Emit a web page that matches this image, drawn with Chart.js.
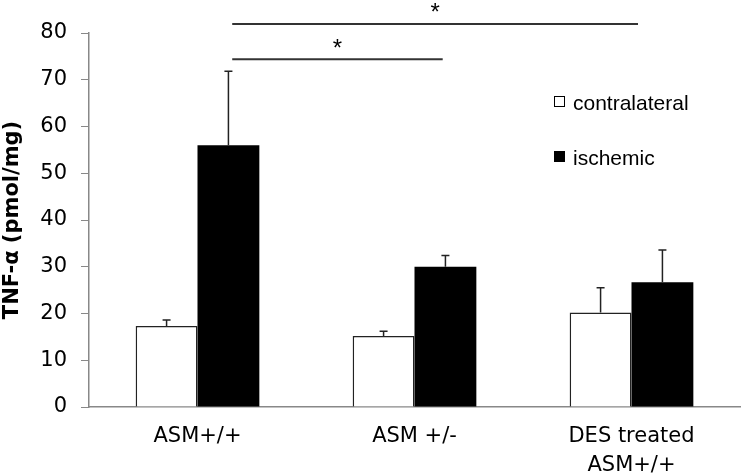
<!DOCTYPE html>
<html>
<head>
<meta charset="utf-8">
<script src="https://cdn.jsdelivr.net/npm/chart.js@4/dist/chart.umd.min.js"></script>
<style>
  body { margin: 0; background: #fff; }
  #wrap { width: 741px; height: 474px; }
</style>
</head>
<body>
<div id="wrap"><canvas id="tnfChart" width="741" height="474"></canvas></div>
<script>
// values (pmol/mg)
const categories = ['ASM+/+', 'ASM +/-', ['DES treated', 'ASM+/+']];
const contralateral = [17.3, 15.2, 20.2];
const ischemic = [56.0, 30.0, 26.7];
// upper error bars (SEM)
const contralateralErr = [1.3, 1.0, 5.3];
const ischemicErr = [15.8, 2.4, 6.9];
const seriesLabels = ['contralateral', 'ischemic'];

Chart.defaults.font.family = '"DejaVu Sans", sans-serif';
Chart.defaults.color = '#000';

// draws the upward error bars on top of each bar
const errorBarPlugin = {
    id: 'errorBars',
    afterDatasetsDraw(chart) {
        const ctx = chart.ctx;
        const y = chart.scales.y;
        chart.data.datasets.forEach((ds, i) => {
            const meta = chart.getDatasetMeta(i);
            meta.data.forEach((bar, j) => {
                const top = y.getPixelForValue(ds.data[j] + ds.errors[j]);
                ctx.save();
                ctx.strokeStyle = '#222';
                ctx.lineWidth = 1.5;
                ctx.beginPath();
                ctx.moveTo(bar.x, bar.y);
                ctx.lineTo(bar.x, top);
                ctx.moveTo(bar.x - 4, top);
                ctx.lineTo(bar.x + 4, top);
                ctx.stroke();
                ctx.restore();
            });
        });
    }
};

// significance lines with asterisks
const sigPlugin = {
    id: 'sigLines',
    afterDraw(chart, args, opts) {
        const ctx = chart.ctx;
        const x = chart.scales.x;
        const y = chart.scales.y;
        opts.lines.forEach(l => {
            const x1 = x.getPixelForValue(l.from);
            const x2 = x.getPixelForValue(l.to);
            const yy = y.getPixelForValue(l.level);
            ctx.save();
            ctx.strokeStyle = '#333';
            ctx.lineWidth = 2;
            ctx.beginPath();
            ctx.moveTo(x1, yy);
            ctx.lineTo(x2, yy);
            ctx.stroke();
            ctx.fillStyle = '#000';
            ctx.font = '24px "Liberation Sans", Arial, sans-serif';
            ctx.textAlign = 'center';
            ctx.textBaseline = 'alphabetic';
            ctx.fillText('*', (x1 + x2) / 2, yy - l.lift);
            ctx.restore();
        });
    }
};

// legend placed inside the plot, right side
const legendPlugin = {
    id: 'boxLegend',
    afterDraw(chart, args, opts) {
        const ctx = chart.ctx;
        ctx.save();
        ctx.font = '21px "Liberation Sans", Arial, sans-serif';
        ctx.textBaseline = 'alphabetic';
        ctx.textAlign = 'left';
        chart.data.datasets.forEach((ds, i) => {
            const base = opts.top + i * opts.gap;
            ctx.fillStyle = ds.backgroundColor;
            ctx.fillRect(opts.left, base - 14, 11, 11);
            ctx.strokeStyle = '#000';
            ctx.lineWidth = 1;
            ctx.strokeRect(opts.left + 0.5, base - 13.5, 10, 10);
            ctx.fillStyle = '#000';
            ctx.fillText(ds.label, opts.left + 19, base);
        });
        ctx.restore();
    }
};

new Chart(document.getElementById('tnfChart'), {
    type: 'bar',
    data: {
        labels: categories,
        datasets: [{
            label: seriesLabels[0],
            data: contralateral,
            errors: contralateralErr,
            backgroundColor: '#ffffff',
            borderColor: '#222',
            borderWidth: 1.5
        }, {
            label: seriesLabels[1],
            data: ischemic,
            errors: ischemicErr,
            backgroundColor: '#000000',
            borderColor: '#000',
            borderWidth: 0
        }]
    },
    options: {
        responsive: false,
        animation: false,
        layout: { padding: { top: 33, right: 1, left: 0, bottom: 0 } },
        datasets: { bar: { categoryPercentage: 0.57, barPercentage: 1.0 } },
        plugins: {
            legend: { display: false },
            tooltip: { enabled: false },
            sigLines: {
                lines: [
                    { from: 0.16, to: 2.03, level: 81.9, lift: 4 },
                    { from: 0.16, to: 1.13, level: 74.4, lift: 3 }
                ]
            },
            boxLegend: { left: 554, top: 110, gap: 55 }
        },
        scales: {
            x: {
                grid: { display: true, drawOnChartArea: false, drawTicks: false },
                border: { color: '#888', width: 1.5 },
                ticks: {
                    font: { size: 21, lineHeight: 1.38 },
                    padding: 15,
                    maxRotation: 0
                },
                afterFit(scale) { scale.height = 67; }
            },
            y: {
                min: 0,
                max: 80,
                ticks: { stepSize: 10, font: { size: 21 }, padding: 14 },
                grid: { drawOnChartArea: false, color: '#888', tickLength: 8 },
                border: { color: '#888', width: 1.5 },
                title: {
                    display: true,
                    text: 'TNF-α (pmol/mg)',
                    font: { size: 21, weight: 'bold' },
                    padding: 0
                },
                afterFit(scale) { scale.width = 89; }
            }
        }
    },
    plugins: [errorBarPlugin, sigPlugin, legendPlugin]
});
</script>
</body>
</html>
